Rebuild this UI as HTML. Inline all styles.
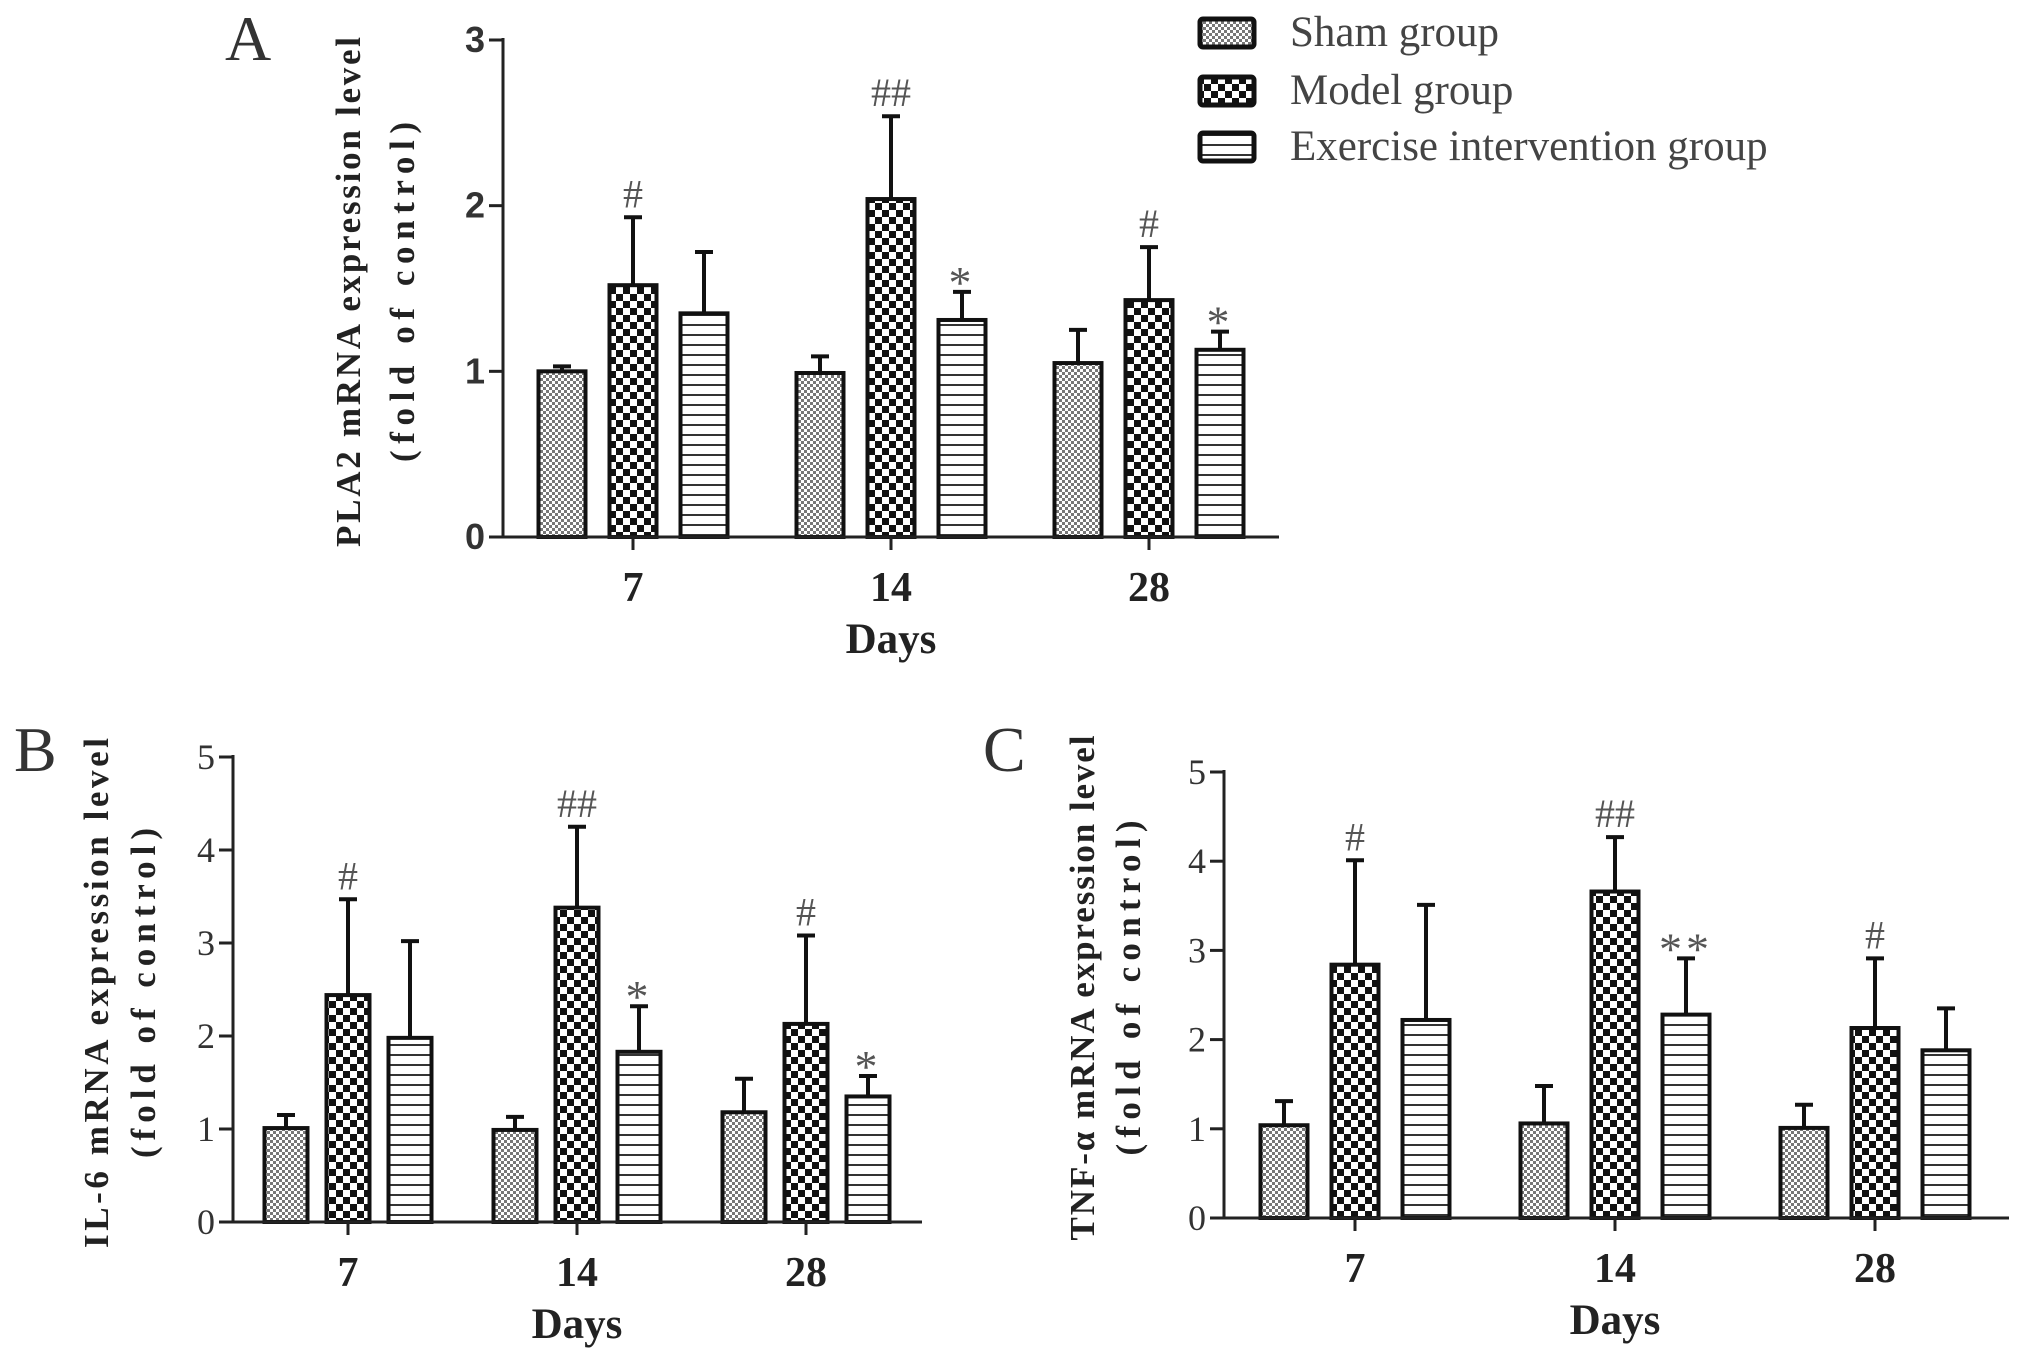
<!DOCTYPE html>
<html><head><meta charset="utf-8"><style>
html,body{margin:0;padding:0;background:#fff;}
svg{display:block;}
</style></head><body>
<svg id="fig" width="2031" height="1350" viewBox="0 0 2031 1350" xmlns="http://www.w3.org/2000/svg">
<defs>
<pattern id="pSham" width="6" height="6" patternUnits="userSpaceOnUse">
<rect width="6" height="6" fill="#fff"/><rect x="0" y="0" width="3" height="3" fill="#777"/><rect x="3" y="3" width="3" height="3" fill="#777"/>
</pattern>
<pattern id="pModel" width="14" height="14" patternUnits="userSpaceOnUse">
<rect width="14" height="14" fill="#fff"/><rect x="0" y="0" width="7" height="7" fill="#111"/><rect x="7" y="7" width="7" height="7" fill="#111"/>
</pattern>
<pattern id="pEx" width="10" height="10" patternUnits="userSpaceOnUse">
<rect width="10" height="10" fill="#fff"/><rect x="0" y="4" width="10" height="2" fill="#333"/>
</pattern>
</defs>
<g id="root"></g>
</svg>
<script>
const categories = ["7","14","28"];
const groups = ["Sham group","Model group","Exercise intervention group"];
// Panel A (PLA2)
const aMeans = [[1.00,0.99,1.05],[1.52,2.04,1.43],[1.35,1.31,1.13]];
const aErr   = [[1.03,1.09,1.25],[1.93,2.54,1.75],[1.72,1.48,1.24]];
const aMarks = [["","",""],["#","##","#"],["","*","*"]];
const aTicks = [0,1,2,3];
// Panel B (IL-6)
const bMeans = [[1.01,0.99,1.18],[2.44,3.38,2.13],[1.98,1.83,1.35]];
const bErr   = [[1.15,1.13,1.54],[3.47,4.25,3.08],[3.02,2.32,1.57]];
const bMarks = [["","",""],["#","##","#"],["","*","*"]];
const bTicks = [0,1,2,3,4,5];
// Panel C (TNF-a)
const cMeans = [[1.04,1.06,1.01],[2.84,3.66,2.13],[2.22,2.28,1.88]];
const cErr   = [[1.31,1.48,1.27],[4.01,4.27,2.91],[3.51,2.91,2.35]];
const cMarks = [["","",""],["#","##","#"],["","**",""]];
const cTicks = [0,1,2,3,4,5];

const NS="http://www.w3.org/2000/svg";
const root=document.getElementById('root');
function mk(tag,attrs,parent,text){const e=document.createElementNS(NS,tag);for(const k in attrs)e.setAttribute(k,attrs[k]);if(text!==undefined)e.textContent=text;(parent||root).appendChild(e);return e;}
const fills=["url(#pSham)","url(#pModel)","url(#pEx)"];
const keys=["sham","model","exercise"];

function panel(cfg){
  const g=mk('g',{});
  
  
  const ymax=cfg.ticks[cfg.ticks.length-1];
  const Y=v=>cfg.y0-(cfg.y0-cfg.yTop)*v/ymax;
  const X=i=>cfg.xc0+cfg.gs*i;
  for(let s=0;s<3;s++){
    for(let i=0;i<categories.length;i++){
      const cx=X(i)+(s-1)*cfg.bs;
      const top=Y(cfg.means[s][i]);
      const et=Y(cfg.err[s][i]);
      const el=mk('line',{x1:cx,y1:top,x2:cx,y2:et,stroke:'#111','stroke-width':4},g);
      
      
      const cap=mk('line',{x1:cx-9,y1:et,x2:cx+9,y2:et,stroke:'#111','stroke-width':4},g);
      
      
      const r=mk('rect',{x:cx-cfg.bw/2,y:top,width:cfg.bw,height:cfg.y0-top,fill:fills[s],stroke:'#111','stroke-width':4},g);
      
      
      const m=cfg.marks[s][i];
      if(m){
        const star=m.indexOf('*')>=0;
        const t=mk('text',{x:cx,y:et-(star?-6:10),'text-anchor':'middle','font-family':'"Liberation Serif",serif','font-size':star?46:40,fill:'#555','letter-spacing':star?4:0},g,m);
        
        
      }
    }
  }
  const ya=mk('line',{x1:cfg.ax,y1:cfg.yTop-2,x2:cfg.ax,y2:cfg.y0,stroke:'#222','stroke-width':3},g);
  
  
  const xa=mk('line',{x1:cfg.ax,y1:cfg.y0,x2:cfg.xEnd,y2:cfg.y0,stroke:'#222','stroke-width':3},g);
  
  
  cfg.ticks.forEach(v=>{
    const tk=mk('line',{x1:cfg.ax-14,y1:Y(v),x2:cfg.ax,y2:Y(v),stroke:'#222','stroke-width':3},g);
    
    
    const tl=mk('text',{x:cfg.ax-18,y:Y(v)+12,'text-anchor':'end','font-family':cfg.tickFont,'font-weight':cfg.tickWeight,'font-size':cfg.tickSize,fill:'#333'},g,String(v));
    
    
  });
  categories.forEach((c,i)=>{
    const tk=mk('line',{x1:X(i),y1:cfg.y0,x2:X(i),y2:cfg.y0+13,stroke:'#222','stroke-width':3},g);
    
    
    const tl=mk('text',{x:X(i),y:cfg.y0+64,'text-anchor':'middle','font-family':'"Liberation Serif",serif','font-weight':'bold','font-size':42,fill:'#222'},g,c);
    
    
  });
  const xt=mk('text',{x:X(1),y:cfg.y0+116,'text-anchor':'middle','font-family':'"Liberation Serif",serif','font-weight':'bold','font-size':43,fill:'#222'},g,'Days');
  
  
  const t1=mk('text',{x:0,y:0,'text-anchor':'middle','font-family':'"Liberation Serif",serif','font-weight':'bold','font-size':35,fill:'#222',textLength:cfg.l1,lengthAdjust:'spacing',transform:`translate(${cfg.t1x},${cfg.tcy}) rotate(-90)`},g,cfg.title1);
  
  
  const t2=mk('text',{x:0,y:0,'text-anchor':'middle','font-family':'"Liberation Serif",serif','font-weight':'bold','font-size':35,fill:'#222',textLength:cfg.l2,lengthAdjust:'spacing',transform:`translate(${cfg.t2x},${cfg.tcy}) rotate(-90)`},g,'(fold of control)');
  
  
  const L=mk('text',{x:cfg.lx,y:cfg.ly,'font-family':'"Liberation Serif",serif','font-size':64,fill:'#333'},g,cfg.letter);
  
  
}

panel({name:'panel-a-pla2',means:aMeans,err:aErr,marks:aMarks,ticks:aTicks,ax:503,y0:537,yTop:40,xEnd:1279,xc0:633,gs:258,bs:71,bw:47,
  tickFont:'"Liberation Sans",sans-serif',tickWeight:'bold',tickSize:36,title1:'PLA2 mRNA expression level',l1:510,l2:340,t1x:360,t2x:414,tcy:292,letter:'A',lx:225,ly:60});
panel({name:'panel-b-il6',means:bMeans,err:bErr,marks:bMarks,ticks:bTicks,ax:233,y0:1222,yTop:757,xEnd:922,xc0:348,gs:229,bs:62,bw:43,
  tickFont:'"Liberation Serif",serif',tickWeight:'normal',tickSize:36,title1:'IL-6 mRNA expression level',l1:510,l2:330,t1x:108,t2x:155,tcy:993,letter:'B',lx:14,ly:771});
panel({name:'panel-c-tnfa',means:cMeans,err:cErr,marks:cMarks,ticks:cTicks,ax:1224,y0:1218,yTop:772,xEnd:2009,xc0:1355,gs:260,bs:71,bw:47,
  tickFont:'"Liberation Serif",serif',tickWeight:'normal',tickSize:36,title1:'TNF-α  mRNA expression level',l1:505,l2:335,t1x:1094,t2x:1140,tcy:988,letter:'C',lx:983,ly:771});

const lg=mk('g',{});


const legY=[33,91,147];
groups.forEach((name,s)=>{
  const e=mk('g',{},lg);
  
  
  mk('rect',{x:1200,y:legY[s]-14,width:54,height:28,rx:3,fill:fills[s],stroke:'#111','stroke-width':5},e);
  mk('text',{x:1290,y:legY[s]+13,'font-family':'"Liberation Serif",serif','font-size':43,fill:'#444'},e,name);
});
</script>
</body></html>
